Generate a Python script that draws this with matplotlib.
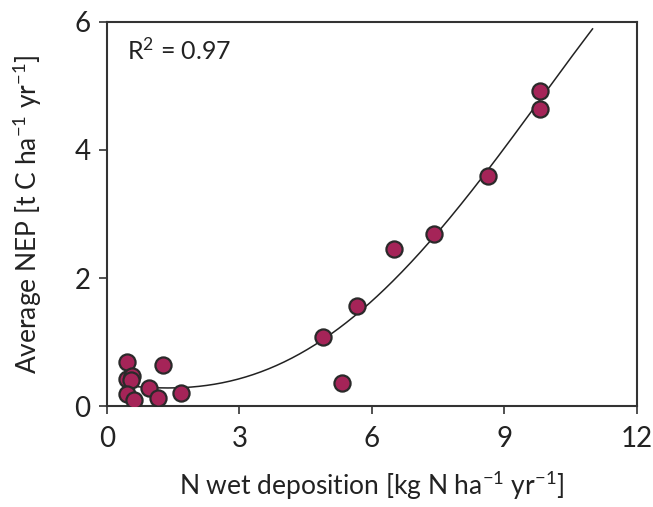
import numpy as np
import matplotlib.pyplot as plt

# N wet deposition [kg N ha-1 yr-1] and average NEP [t C ha-1 yr-1]
n_dep = [0.46, 1.27, 0.45, 0.57, 0.55, 0.94, 0.45, 0.61, 1.15, 1.68,
         4.89, 5.33, 5.67, 6.49, 7.41, 8.64, 9.81, 9.81]
nep = [0.69, 0.64, 0.43, 0.47, 0.40, 0.28, 0.19, 0.10, 0.12, 0.20,
       1.08, 0.36, 1.57, 2.45, 2.69, 3.59, 4.92, 4.64]

# trend line polynomial (coefficients estimated from the drawn curve)
trend_coef = [-0.00045, 0.00831, 0.01681, -0.08816, 0.35276]
trend_range = (0.5, 11.0)

x_ticks = [0, 3, 6, 9, 12]
y_ticks = [0, 2, 4, 6]

plt.rcParams['font.family'] = ['Lato', 'DejaVu Sans']
plt.rcParams['mathtext.default'] = 'regular'

fig = plt.figure(figsize=(6.53, 5.07), dpi=100)
ax = fig.add_axes([0.164, 0.199, 0.811, 0.758])

xs = np.linspace(trend_range[0], trend_range[1], 300)
ax.plot(xs, np.polyval(trend_coef, xs), color='#222222', lw=1.1, zorder=2)
ax.scatter(n_dep, nep, s=135, color='#a52458', edgecolor='#2a2a2a', linewidth=1.6, zorder=3)

ax.text(0.038, 0.927, 'R$^2$ = 0.97', transform=ax.transAxes, fontsize=18,
        va='center', ha='left', color='#222222')

ax.set_xlim(0, 12)
ax.set_ylim(0, 6)
ax.set_xticks(x_ticks)
ax.set_yticks(y_ticks)
ax.tick_params(direction='out', length=6, width=1.2, labelsize=20, colors='#333333',
               labelcolor='#222222')
ax.tick_params(axis='x', pad=8)
ax.tick_params(axis='y', pad=6)
for sp in ax.spines.values():
    sp.set_linewidth(1.5)
    sp.set_color('#333333')

ax.set_xlabel('N wet deposition [kg N ha$^{-1}$ yr$^{-1}$]', fontsize=19, color='#222222', labelpad=13)
ax.set_ylabel('Average NEP [t C ha$^{-1}$ yr$^{-1}$]', fontsize=19, color='#222222', labelpad=22)

fig.savefig('out.png')
